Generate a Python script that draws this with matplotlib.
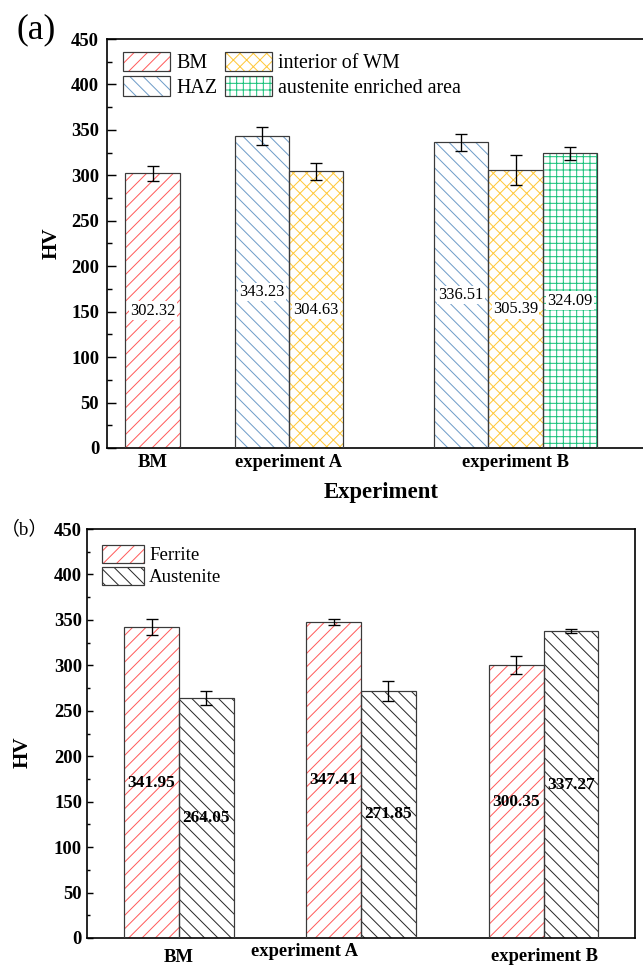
import numpy as np
import matplotlib
matplotlib.use("Agg")
import matplotlib.pyplot as plt
from matplotlib.patches import Patch
from matplotlib.ticker import MultipleLocator

plt.rcParams["font.family"] = ["Liberation Serif", "Noto Sans CJK SC"]
plt.rcParams["hatch.linewidth"] = 0.9

DPI = 80
W, H = 643, 974

# ---- datos panel (a) ----
a_groups = ["BM", "experiment A", "experiment B"]
a_series = ["BM", "HAZ", "interior of WM", "austenite enriched area"]
a_bm = [302.32, np.nan, np.nan]
a_haz = [np.nan, 343.23, 336.51]
a_wm = [np.nan, 304.63, 305.39]
a_aus = [np.nan, np.nan, 324.09]
a_bm_err = [8.2, np.nan, np.nan]
a_haz_err = [np.nan, 9.7, 9.2]
a_wm_err = [np.nan, 9.4, 16.5]
a_aus_err = [np.nan, np.nan, 7.3]

# ---- datos panel (b) ----
b_groups = ["BM", "experiment A", "experiment B"]
b_series = ["Ferrite", "Austenite"]
b_ferrite = [341.95, 347.41, 300.35]
b_austenite = [264.05, 271.85, 337.27]
b_ferrite_err = [8.6, 3.1, 9.9]
b_austenite_err = [7.9, 10.7, 2.2]

EDGE = "#3a3a3a"
C_RED = "#ff5c5c"
C_BLUE = "#6f9cc8"
C_YEL = "#ffc83a"
C_GRN = "#19c27a"
C_BLK = "#2a2a2a"


def barras(ax, x, vals, errs, color, hatch, bold, fondo):
    ax.bar(x, vals, 1.0, facecolor="white", edgecolor=color, hatch=hatch,
           linewidth=0, zorder=2)
    ax.bar(x, vals, 1.0, fill=False, edgecolor=EDGE, linewidth=1.1, zorder=3)
    ax.errorbar(x, vals, yerr=errs, fmt="none", ecolor="black",
                elinewidth=1.2, capsize=5, capthick=1.2, zorder=4)
    for xi, v in zip(x, vals):
        kw = dict(ha="center", va="center", zorder=5)
        if fondo:
            kw["bbox"] = dict(facecolor="white", edgecolor="none", pad=1.2)
        ax.text(xi, v / 2, f"{v:.2f}", fontsize=15.5 if bold else 14.7,
                fontweight="bold" if bold else "normal", **kw)


def estilo(ax, major_len, minor_len, pad):
    ax.set_ylim(0, 450)
    ax.yaxis.set_major_locator(MultipleLocator(50))
    ax.yaxis.set_minor_locator(MultipleLocator(25))
    ax.tick_params(axis="y", which="major", direction="in", length=major_len,
                   width=1.3, pad=pad, labelsize=16.8)
    ax.tick_params(axis="y", which="minor", direction="in", length=minor_len,
                   width=1.3)
    ax.tick_params(axis="x", length=0, labelsize=16.8)
    for lbl in ax.get_yticklabels() + ax.get_xticklabels():
        lbl.set_fontweight("bold")
    for s in ax.spines.values():
        s.set_linewidth(1.5)


fig = plt.figure(figsize=(W / DPI, H / DPI), dpi=DPI)

# ================= panel (a) =================
ax1 = fig.add_axes([107 / W, 1 - 448 / H, 540 / W, 409 / H])
a_centros = [0, 2.51, 6.68]
a_vals = [a_bm, a_haz, a_wm, a_aus]
a_errs = [a_bm_err, a_haz_err, a_wm_err, a_aus_err]
a_estilo = [(C_RED, "//"), (C_BLUE, "\\\\"), (C_YEL, "xx"), (C_GRN, "++")]

# posiciones: en cada grupo, las barras presentes quedan contiguas y centradas
pos = [[np.nan] * 3 for _ in a_vals]
for g, c in enumerate(a_centros):
    presentes = [s for s in range(len(a_vals)) if not np.isnan(a_vals[s][g])]
    n = len(presentes)
    for i, s in enumerate(presentes):
        pos[s][g] = c + (i - (n - 1) / 2)

handles = []
for s, (col, hat) in enumerate(a_estilo):
    x = [p for p in pos[s] if not np.isnan(p)]
    v = [val for val in a_vals[s] if not np.isnan(val)]
    e = [err for err in a_errs[s] if not np.isnan(err)]
    barras(ax1, x, v, e, col, hat, bold=False, fondo=True)
    handles.append((Patch(facecolor="white", edgecolor=col, hatch=hat, linewidth=0),
                    Patch(fill=False, edgecolor=EDGE, linewidth=1.1)))

ax1.set_xlim(-0.84, 9.1)
ax1.set_xticks(a_centros)
ax1.set_xticklabels(a_groups)
estilo(ax1, 8, 4.5, 7)
for t in ax1.xaxis.get_major_ticks():
    t.set_pad(5)
for lbl in ax1.get_xticklabels():
    lbl.set_fontweight("bold")

ax1.text(-0.102, 0.5, "HV", transform=ax1.transAxes, rotation=90,
         ha="center", va="center", fontsize=19, fontweight="bold")
ax1.text(0.507, -0.108, "Experiment", transform=ax1.transAxes,
         ha="center", va="center", fontsize=20.5, fontweight="bold")
ax1.legend(handles, a_series, ncol=2, loc="upper left",
           bbox_to_anchor=(0.0297, 0.968), frameon=False, fontsize=18,
           borderpad=0, borderaxespad=0, handlelength=2.35, handleheight=1.1,
           labelspacing=0.15, handletextpad=0.3, columnspacing=0.4)
fig.text(36 / W, 1 - 30 / H, "(a)", ha="center", va="center", fontsize=32)

# ================= panel (b) =================
ax2 = fig.add_axes([87 / W, 1 - 938 / H, 548 / W, 409 / H])
b_centros = np.array([0, 3.33, 6.67])
b_tick_pos = [0, 2.30, 6.69]
b_vals = [b_ferrite, b_austenite]
b_errs = [b_ferrite_err, b_austenite_err]
b_estilo = [(C_RED, "//"), (C_BLK, "\\\\")]

handles = []
for s, (col, hat) in enumerate(b_estilo):
    x = b_centros + (s - 0.5)
    barras(ax2, x, b_vals[s], b_errs[s], col, hat, bold=True, fondo=False)
    handles.append((Patch(facecolor="white", edgecolor=col, hatch=hat, linewidth=0),
                    Patch(fill=False, edgecolor=EDGE, linewidth=1.1)))

ax2.set_xlim(-1.68, 8.34)
ax2.set_xticks(b_tick_pos)
ax2.set_xticklabels(b_groups)
estilo(ax2, 5.5, 3, 4.5)
for t, p in zip(ax2.xaxis.get_major_ticks(), [10, 4.5, 9]):
    t.set_pad(p)
for lbl in ax2.get_xticklabels():
    lbl.set_fontweight("bold")

ax2.text(-0.117, 0.455, "HV", transform=ax2.transAxes, rotation=90,
         ha="center", va="center", fontsize=19, fontweight="bold")
ax2.legend(handles, b_series, loc="upper left",
           bbox_to_anchor=(0.0274, 0.961), frameon=False, fontsize=17,
           borderpad=0, borderaxespad=0, handlelength=2.2, handleheight=1.1,
           labelspacing=0.12, handletextpad=0.3)
fig.text(1 / W, 1 - 529 / H, "（b）", ha="left", va="center", fontsize=17)

fig.savefig("out.png", dpi=DPI, facecolor="white")
